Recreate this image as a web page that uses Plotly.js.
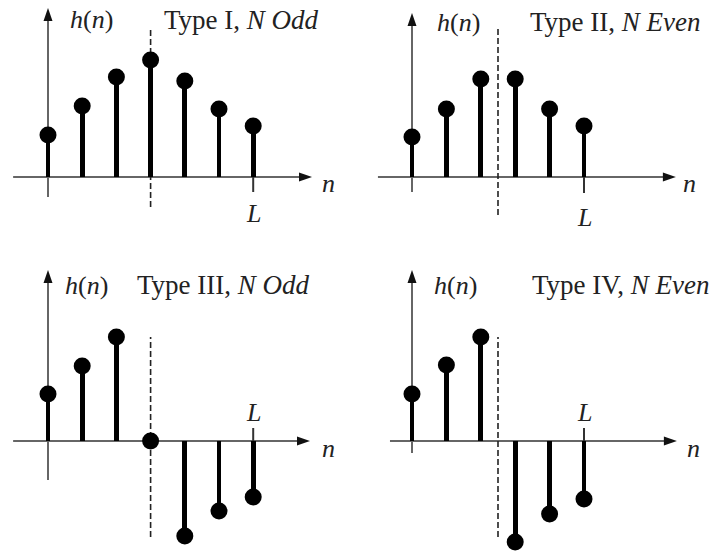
<!DOCTYPE html>
<html>
<head>
<meta charset="utf-8">
<script src="https://cdn.plot.ly/plotly-3.0.1.min.js"></script>
<style>html,body{margin:0;padding:0;background:#fff}</style>
</head>
<body>
<div id="chart" style="width:718px;height:554px"></div>
<script>
// Impulse responses h(n) of the four linear-phase FIR filter types
const nOdd = [0, 1, 2, 3, 4, 5, 6];
const nEven = [0, 1, 2, 3, 4, 5];
const hType1 = [0.42, 0.71, 1.00, 1.17, 0.96, 0.68, 0.51];
const hType2 = [0.40, 0.68, 0.98, 0.98, 0.68, 0.51];
const hType3 = [0.47, 0.75, 1.04, 0.00, -0.95, -0.70, -0.56];
const hType4 = [0.47, 0.76, 1.04, -1.01, -0.73, -0.58];
const panelTitles = ['Type I, <i>N Odd</i>', 'Type II, <i>N Even</i>',
                     'Type III, <i>N Odd</i>', 'Type IV, <i>N Even</i>'];
const yLabel = '<i>h</i>(<i>n</i>)';
const xLabel = '<i>n</i>';
const endLabel = '<i>L</i>';

const W = 718, H = 554, YPX = 100;   // 100 px per unit of h(n)
const FAMILY = 'Liberation Serif, Times New Roman, serif';
const FONT = {family: FAMILY, size: 26, color: '#222'};
const TITLE_FONT = {family: FAMILY, size: 27, color: '#222'};

// Layout of each panel: pixel box, origin, sample spacing, decorations
const panels = [
  {n: nOdd, h: hType1, title: panelTitles[0], box: [0, 359, 0, 255], x0: 48, dx: 34.2, y0: 177,
   axX: [-1.02, 7.72], axY: [-0.20, 1.69], sym: 3, dash: [-0.30, 1.47], tick: -0.15, Ly: -0.36,
   nLab: [8.19, -0.06], hx: 68, tx: 162, ty: 20},
  {n: nEven, h: hType2, title: panelTitles[1], box: [359, 718, 0, 255], x0: 412, dx: 34.4, y0: 177,
   axX: [-0.99, 7.67], axY: [-0.15, 1.64], sym: 2.5, dash: [-0.38, 1.49], tick: -0.16, Ly: -0.40,
   nLab: [8.08, -0.06], hx: 435, tx: 528, ty: 22},
  {n: nOdd, h: hType3, title: panelTitles[2], box: [0, 359, 255, 554], x0: 48, dx: 34.2, y0: 441,
   axX: [-1.02, 7.66], axY: [-0.39, 1.71], sym: 3, dash: [-0.96, 1.04], tick: 0.13, Ly: 0.29,
   nLab: [8.19, -0.07], hx: 63, tx: 135, ty: 285},
  {n: nEven, h: hType4, title: panelTitles[3], box: [359, 718, 255, 554], x0: 412, dx: 34.4, y0: 441,
   axX: [-0.64, 7.70], axY: [-0.12, 1.71], sym: 2.5, dash: [-0.96, 1.04], tick: 0.13, Ly: 0.29,
   nLab: [8.17, -0.07], hx: 432, tx: 530, ty: 285}
];

const traces = [], shapes = [], annotations = [];
const layout = {
  width: W, height: H, margin: {l: 0, r: 0, t: 0, b: 0},
  paper_bgcolor: '#fff', plot_bgcolor: 'rgba(0,0,0,0)',
  showlegend: false, hovermode: false, bargap: 0
};

panels.forEach((p, i) => {
  const k = i === 0 ? '' : String(i + 1);
  const xr = 'x' + k, yr = 'y' + k;
  const [l, r, t, b] = p.box;
  layout['xaxis' + k] = {domain: [l / W, r / W], range: [(l - p.x0) / p.dx, (r - p.x0) / p.dx],
    visible: false, fixedrange: true, anchor: yr};
  layout['yaxis' + k] = {domain: [1 - b / H, 1 - t / H], range: [(p.y0 - b) / YPX, (p.y0 - t) / YPX],
    visible: false, fixedrange: true, anchor: xr};

  // stems
  traces.push({type: 'bar', x: p.n, y: p.h, width: 0.14, xaxis: xr, yaxis: yr,
    marker: {color: '#000', line: {width: 0}}});
  // sample dots
  traces.push({type: 'scatter', mode: 'markers', x: p.n, y: p.h, xaxis: xr, yaxis: yr,
    marker: {color: '#000', size: 17}, cliponaxis: false});

  const axisLine = {color: '#666', width: 2};
  const L = p.n[p.n.length - 1];
  const headLx = 13 / p.dx, headWy = 4.5 / YPX, headLy = 13 / YPX, headWx = 4.5 / p.dx;
  // n axis and h(n) axis
  shapes.push({type: 'line', xref: xr, yref: yr, x0: p.axX[0], x1: p.axX[1] - headLx * 0.8, y0: 0, y1: 0,
    line: axisLine, layer: 'below'});
  shapes.push({type: 'line', xref: xr, yref: yr, x0: 0, x1: 0, y0: p.axY[0], y1: p.axY[1] - headLy * 0.8,
    line: axisLine, layer: 'below'});
  // arrowheads
  const X1 = p.axX[1], Y1 = p.axY[1];
  shapes.push({type: 'path', xref: xr, yref: yr, fillcolor: '#111', line: {width: 0},
    path: `M${X1},0 L${X1 - headLx},${headWy} L${X1 - headLx},${-headWy} Z`});
  shapes.push({type: 'path', xref: xr, yref: yr, fillcolor: '#111', line: {width: 0},
    path: `M0,${Y1} L${headWx},${Y1 - headLy} L${-headWx},${Y1 - headLy} Z`});
  // tick at n = L
  shapes.push({type: 'line', xref: xr, yref: yr, x0: L, x1: L, y0: 0, y1: p.tick,
    line: {color: '#333', width: 2}, layer: 'below'});
  // symmetry line
  shapes.push({type: 'line', xref: xr, yref: yr, x0: p.sym, x1: p.sym, y0: p.dash[0], y1: p.dash[1],
    line: {color: '#222', width: 1.6, dash: '6px,3px'}, layer: 'below'});

  annotations.push({xref: xr, yref: yr, x: p.nLab[0], y: p.nLab[1], text: xLabel, showarrow: false,
    font: FONT, xanchor: 'center', yanchor: 'middle'});
  annotations.push({xref: xr, yref: yr, x: L, y: p.Ly, text: endLabel, showarrow: false,
    font: FONT, xanchor: 'center', yanchor: 'middle'});
  annotations.push({xref: 'paper', yref: 'paper', x: p.hx / W, y: 1 - p.ty / H, text: yLabel,
    showarrow: false, font: FONT, xanchor: 'left', yanchor: 'middle'});
  annotations.push({xref: 'paper', yref: 'paper', x: p.tx / W, y: 1 - p.ty / H, text: p.title,
    showarrow: false, font: TITLE_FONT, xanchor: 'left', yanchor: 'middle'});
});

layout.shapes = shapes;
layout.annotations = annotations;

Plotly.newPlot('chart', traces, layout, {displayModeBar: false, staticPlot: true});
</script>
</body>
</html>
